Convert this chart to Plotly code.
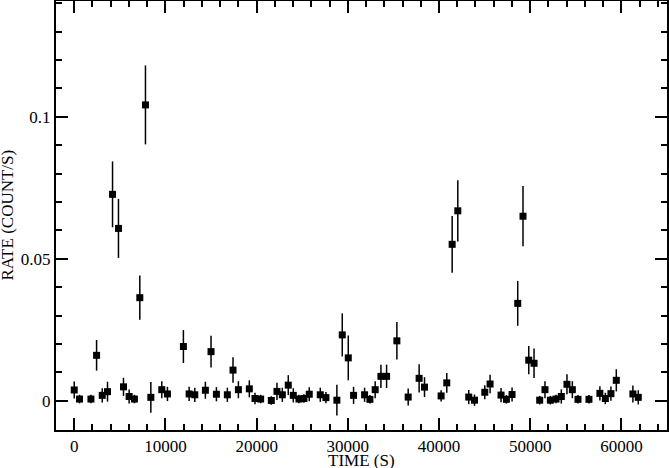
import plotly.graph_objects as go

# light curve: time bins (s), rate (count/s) and 1-sigma errors
time_s = [
    0, 580, 1830, 2450, 3070, 3650, 4200, 4850, 5400, 6020, 6600, 7190, 7810,
    8400, 9600, 10220, 11970, 12600, 13220, 14380, 15000, 15590, 16790, 17410,
    18000, 19200, 19820, 20440, 21610, 22230, 22820, 23470, 24020, 24640,
    25190, 25770, 26980, 27600, 28800, 29390, 30050, 30630, 31840, 32420,
    33000, 33630, 34250, 35380, 36620, 37820, 38410, 40230, 40850, 41440,
    42060, 43260, 43890, 45020, 45600, 46800, 47390, 48010, 48630, 49210,
    49840, 50420, 51040, 51620, 52210, 52830, 53410, 54030, 54620, 55240,
    56440, 57640, 58240, 58850, 59440, 61260, 61850,
]
rate = [
    0.0038, 0.0006, 0.0006, 0.0160, 0.0019, 0.0032, 0.0727, 0.0607, 0.0049,
    0.0015, 0.0006, 0.0363, 0.1042, 0.0012, 0.0039, 0.0024, 0.0191, 0.0024,
    0.0021, 0.0037, 0.0173, 0.0023, 0.0021, 0.0108, 0.0039, 0.0042, 0.0008,
    0.0006, 0.0001, 0.0033, 0.0021, 0.0055, 0.0019, 0.0006, 0.0008, 0.0023,
    0.0021, 0.0011, 0.0002, 0.0232, 0.0151, 0.0019, 0.0021, 0.0005, 0.0039,
    0.0086, 0.0086, 0.0211, 0.0013, 0.0079, 0.0048, 0.0017, 0.0063, 0.0551,
    0.0669, 0.0013, 0.0002, 0.0030, 0.0059, 0.0020, 0.0005, 0.0022, 0.0343,
    0.0650, 0.0143, 0.0132, 0.0002, 0.0039, 0.0002, 0.0006, 0.0015, 0.0058,
    0.0039, 0.0005, 0.0005, 0.0026, 0.0008, 0.0025, 0.0072, 0.0024, 0.0012,
]
rate_err = [
    0.0030, 0.0015, 0.0015, 0.0054, 0.0025, 0.0035, 0.0116, 0.0104, 0.0032,
    0.0025, 0.0015, 0.0078, 0.0139, 0.0054, 0.0030, 0.0025, 0.0058, 0.0025,
    0.0025, 0.0030, 0.0056, 0.0025, 0.0025, 0.0045, 0.0030, 0.0030, 0.0020,
    0.0015, 0.0015, 0.0030, 0.0025, 0.0035, 0.0025, 0.0015, 0.0015, 0.0025,
    0.0025, 0.0020, 0.0054, 0.0076, 0.0079, 0.0030, 0.0025, 0.0015, 0.0030,
    0.0041, 0.0041, 0.0066, 0.0030, 0.0050, 0.0035, 0.0020, 0.0035, 0.0100,
    0.0108, 0.0025, 0.0020, 0.0025, 0.0033, 0.0025, 0.0015, 0.0025, 0.0079,
    0.0106, 0.0050, 0.0052, 0.0015, 0.0030, 0.0015, 0.0015, 0.0025, 0.0035,
    0.0030, 0.0015, 0.0015, 0.0025, 0.0020, 0.0025, 0.0039, 0.0030, 0.0025,
]

fig = go.Figure()
fig.add_trace(
    go.Scatter(
        x=time_s,
        y=rate,
        mode="markers",
        marker={"symbol": "square", "size": 7, "color": "black"},
        error_y={
            "type": "data",
            "array": rate_err,
            "visible": True,
            "width": 0,
            "thickness": 1.5,
            "color": "black",
        },
        showlegend=False,
    )
)

axis_common = {
    "showline": True,
    "linewidth": 2,
    "linecolor": "black",
    "mirror": "allticks",
    "ticks": "inside",
    "tickcolor": "black",
    "tickwidth": 2,
    "ticklen": 12,
    "showgrid": False,
    "zeroline": False,
    "automargin": False,
    "tickfont": {"family": "Liberation Serif", "size": 17, "color": "black"},
}

fig.update_layout(
    width=669,
    height=468,
    margin={"l": 56, "r": 2, "t": 1, "b": 38},
    paper_bgcolor="white",
    plot_bgcolor="white",
    font={"family": "Liberation Serif", "color": "black"},
    xaxis={
        **axis_common,
        "range": [-2000, 65000],
        "tick0": 0,
        "dtick": 10000,
        "tickformat": "d",
        "minor": {"ticks": "inside", "ticklen": 6, "dtick": 2000, "tickwidth": 2, "tickcolor": "black"},
    },
    yaxis={
        **axis_common,
        "range": [-0.0103, 0.1408],
        "tick0": 0,
        "dtick": 0.05,
        "minor": {"ticks": "inside", "ticklen": 6, "dtick": 0.01, "tickwidth": 2, "tickcolor": "black"},
    },
    annotations=[
        {
            "text": "TIME (S)",
            "xref": "paper",
            "yref": "paper",
            "x": 0.5,
            "y": -0.07,
            "xanchor": "center",
            "yanchor": "middle",
            "showarrow": False,
            "font": {"size": 17},
        },
        {
            "text": "RATE (COUNT/S)",
            "xref": "paper",
            "yref": "paper",
            "x": -0.08,
            "y": 0.5,
            "xanchor": "center",
            "yanchor": "middle",
            "textangle": -90,
            "showarrow": False,
            "font": {"size": 17},
        },
    ],
)

# the page body has a default 8px margin; drop it so the figure fills the window
fig.write_html(
    "out.html",
    config={"displayModeBar": False},
    post_script="document.body.style.margin = '0';",
)
